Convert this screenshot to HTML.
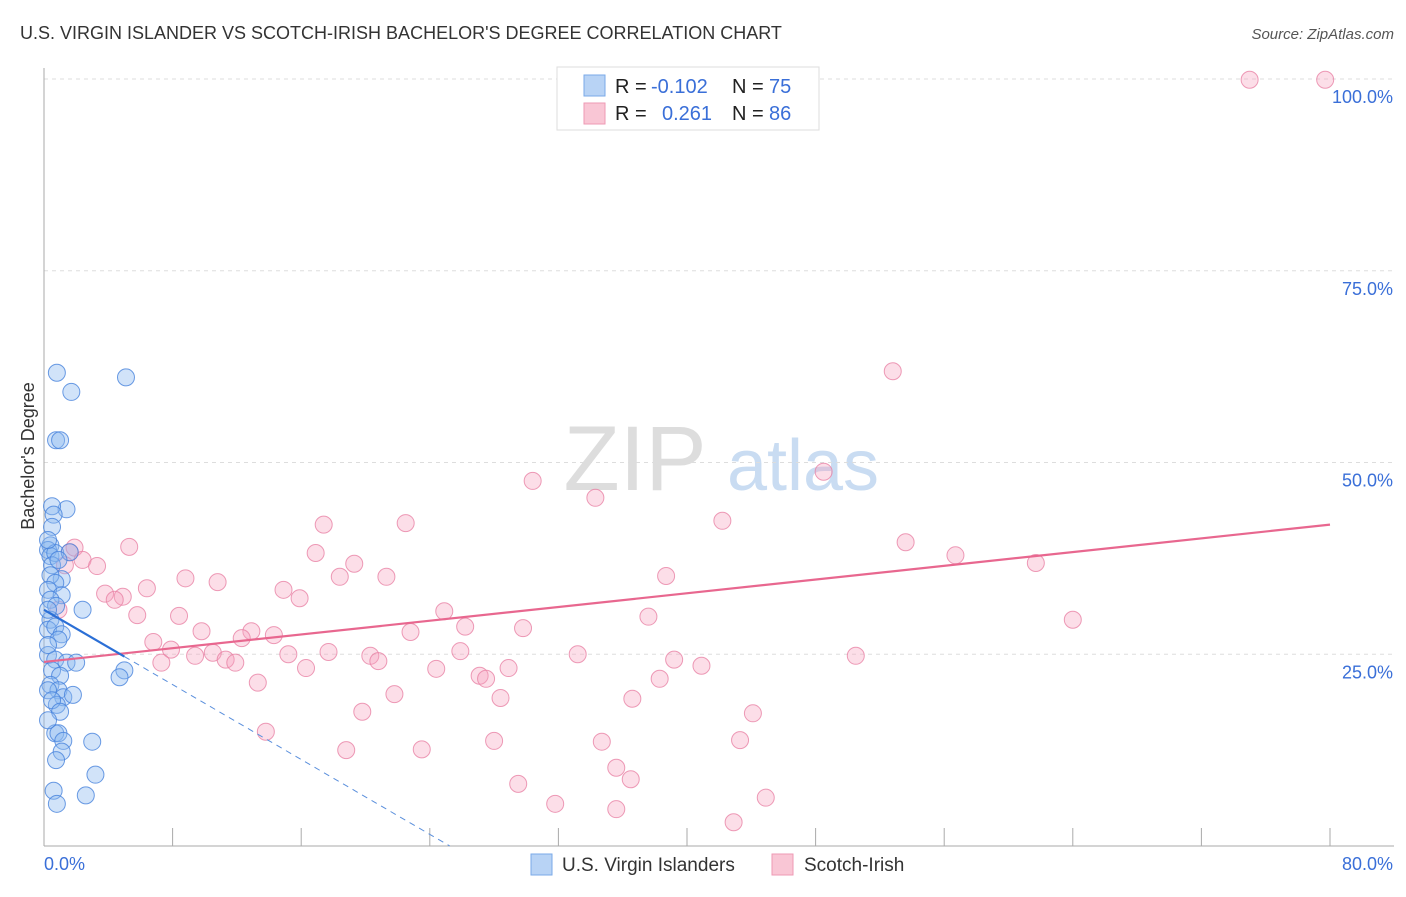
<!DOCTYPE html>
<html><head><meta charset="utf-8"><style>
body{margin:0;background:#fff;font-family:"Liberation Sans",sans-serif;}
svg text{font-family:"Liberation Sans",sans-serif;}
</style></head><body>
<svg id="chart" width="1406" height="892" viewBox="0 0 1406 892" xmlns="http://www.w3.org/2000/svg">
<text x="20" y="39" font-size="18" fill="#333">U.S. VIRGIN ISLANDER VS SCOTCH-IRISH BACHELOR'S DEGREE CORRELATION CHART</text>
<text x="1394" y="39" font-size="15" fill="#555" font-style="italic" text-anchor="end">Source: ZipAtlas.com</text>
<text transform="translate(34,456) rotate(-90)" font-size="18" fill="#333" text-anchor="middle">Bachelor's Degree</text>
<g><text x="635" y="490" font-size="92" fill="#ddd" font-family="Liberation Serif" text-anchor="middle">ZIP</text><text x="803" y="490" font-size="72" fill="#c9dcf2" text-anchor="middle">atlas</text></g>
<g id="grid"></g><g id="axes"></g><g id="pts"></g><g id="trend"></g>
<g>
<rect x="557" y="67" width="262" height="63" fill="#fff" stroke="#ddd"/>
<rect x="584" y="75" width="21" height="21" fill="#b8d3f5" stroke="#7aaae8"/>
<rect x="584" y="103" width="21" height="21" fill="#f9c6d5" stroke="#ee9ab4"/>
<text x="615" y="93" font-size="20" fill="#222">R = </text><text x="651" y="93" font-size="20" fill="#3a6fd8">-0.102</text>
<text x="732" y="93" font-size="20" fill="#222">N = </text><text x="769" y="93" font-size="20" fill="#3a6fd8">75</text>
<text x="615" y="120" font-size="20" fill="#222">R = </text><text x="662" y="120" font-size="20" fill="#3a6fd8">0.261</text>
<text x="732" y="120" font-size="20" fill="#222">N = </text><text x="769" y="120" font-size="20" fill="#3a6fd8">86</text>
</g>
<g>
<rect x="531" y="854" width="21" height="21" fill="#b8d3f5" stroke="#7aaae8"/>
<text x="562" y="871" font-size="19" fill="#333">U.S. Virgin Islanders</text>
<rect x="772" y="854" width="21" height="21" fill="#f9c6d5" stroke="#ee9ab4"/>
<text x="804" y="871" font-size="19" fill="#333">Scotch-Irish</text>
</g>
</svg>
<script>
const yTicks=[25,50,75,100];
const yTickLabels=["25.0%","50.0%","75.0%","100.0%"];
const xTickCount=10;
const xLabels=["0.0%","80.0%"];
const blueX=[0.8,5.1,1.7,0.75,1.0,1.4,0.5,0.6,0.5,0.4,0.25,0.4,0.7,1.6,0.5,0.9,1.1,0.4,0.7,0.25,1.1,0.4,0.75,2.4,0.4,0.25,0.7,1.1,0.9,0.25,0.7,1.4,2.0,0.5,1.0,0.4,0.9,1.2,1.8,0.8,5.0,4.7,0.7,0.9,1.2,3.0,1.1,0.75,3.2,0.6,2.6,0.8,0.25,0.25,0.25,0.25,0.5,1.0,0.25];
const blueY=[61.7,61.1,59.2,52.9,52.9,43.9,44.3,43.2,41.6,39.2,38.6,37.8,38.2,38.3,36.6,37.3,34.8,35.3,34.3,33.4,32.7,32.1,31.3,30.8,29.5,28.2,28.6,27.6,26.9,24.9,24.3,23.9,23.9,22.9,22.2,21.0,20.3,19.4,19.7,18.4,22.9,22.0,14.7,14.7,13.7,13.6,12.3,11.2,9.3,7.2,6.6,5.5,39.9,30.8,26.2,20.3,19.0,17.5,16.4];
const pinkX=[75.0,79.7,52.8,48.5,30.4,34.3,42.2,22.5,17.4,53.6,56.7,61.7,5.3,16.9,19.3,1.6,1.9,2.4,3.3,1.3,8.8,10.8,18.4,21.3,38.7,6.4,14.9,3.8,4.9,4.4,15.9,5.8,8.4,24.9,37.6,64.0,0.9,26.2,29.8,9.8,12.9,22.8,14.3,12.3,6.8,7.9,9.4,10.5,15.2,17.7,20.3,25.9,33.2,50.5,7.3,11.3,11.9,16.3,20.8,24.4,28.9,39.2,40.9,27.1,27.5,38.3,13.3,21.8,28.4,36.6,19.8,44.1,13.8,28.0,34.7,43.3,18.8,23.5,35.6,36.5,29.5,31.8,35.6,44.9,42.9];
const pinkY=[99.9,99.9,61.9,48.8,47.6,45.4,42.4,42.1,41.9,39.6,37.9,36.9,39.0,38.2,36.8,38.3,38.9,37.3,36.5,36.6,34.9,34.4,35.1,35.1,35.2,33.6,33.4,32.9,32.5,32.1,32.3,30.1,30.0,30.6,29.9,29.5,30.8,28.6,28.4,28.0,28.0,27.9,27.5,27.1,26.6,25.6,24.8,25.2,25.0,25.3,24.8,25.4,25.0,24.8,23.9,24.3,23.9,23.2,24.1,23.1,23.2,24.3,23.5,22.2,21.8,21.8,21.3,19.8,19.3,19.2,17.5,17.3,14.9,13.7,13.6,13.8,12.5,12.6,10.2,8.7,8.1,5.5,4.8,6.3,3.1];
const pinkTrend=[24.0,41.9];
const blueTrend=[30.8,-1.22];
const NS="http://www.w3.org/2000/svg";
const X=v=>44+v/80*1286, Y=v=>846-v/100*767;
function mk(tag,attrs,parent){const e=document.createElementNS(NS,tag);for(const k in attrs)e.setAttribute(k,attrs[k]);document.getElementById(parent).appendChild(e);return e;}
yTicks.forEach((t,i)=>{
 const l=mk('line',{x1:44,x2:1394,y1:Y(t),y2:Y(t),stroke:'#ddd','stroke-dasharray':'4,4'},'grid');
 
 
 const tx=mk('text',{x:1393,y:Y(t)+24,'font-size':18,fill:'#3a6fd8','text-anchor':'end'},'grid');
 tx.textContent=yTickLabels[i];
 
 
});
const ax=mk('line',{x1:44,x2:1394,y1:846,y2:846,stroke:'#aaa'},'axes');


const ay=mk('line',{x1:44,x2:44,y1:68,y2:846,stroke:'#aaa'},'axes');


for(let i=1;i<=xTickCount;i++){const v=i*8;
 const t=mk('line',{x1:X(v),x2:X(v),y1:828,y2:846,stroke:'#aaa'},'axes');
 
 }
const l0=mk('text',{x:44,y:870,'font-size':18,fill:'#3a6fd8'},'axes');l0.textContent=xLabels[0];


const l1=mk('text',{x:1393,y:870,'font-size':18,fill:'#3a6fd8','text-anchor':'end'},'axes');l1.textContent=xLabels[1];


pinkX.forEach((v,i)=>{const c=mk('circle',{cx:X(v),cy:Y(pinkY[i]),r:8.5,fill:'rgba(246,160,188,0.35)',stroke:'rgba(232,130,165,0.8)','stroke-width':1},'pts');
 
 });
blueX.forEach((v,i)=>{const c=mk('circle',{cx:X(v),cy:Y(blueY[i]),r:8.5,fill:'rgba(140,185,240,0.4)',stroke:'rgba(70,130,220,0.8)','stroke-width':1},'pts');
 
 });
const pt=mk('line',{x1:X(0),y1:Y(pinkTrend[0]),x2:X(80),y2:Y(pinkTrend[1]),stroke:'#e8678f','stroke-width':2.2},'trend');


const bx=5.0, bz=-blueTrend[0]/blueTrend[1];
const bt=mk('line',{x1:X(0),y1:Y(blueTrend[0]),x2:X(bx),y2:Y(blueTrend[0]+blueTrend[1]*bx),stroke:'#2b6fd6','stroke-width':2.2},'trend');


const bd=mk('line',{x1:X(bx),y1:Y(blueTrend[0]+blueTrend[1]*bx),x2:X(bz),y2:Y(0),stroke:'#5a8fdc','stroke-width':1,'stroke-dasharray':'6,5'},'trend');


</script>
</body></html>
